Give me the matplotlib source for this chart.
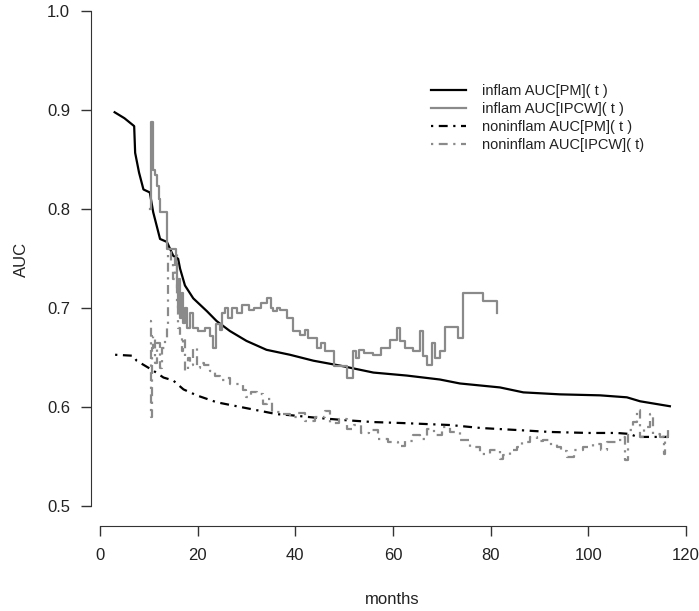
import numpy as np
import matplotlib
matplotlib.use("Agg")
import matplotlib.pyplot as plt

plt.rcParams['font.family'] = ['Liberation Sans', 'DejaVu Sans']

# inflam AUC[PM](t) - black solid
inflam_pm_x = [3.0, 5.0, 7.0, 7.2, 8.0, 8.9, 10.2, 10.9, 12.3, 13.7, 15.0, 16.0, 16.4, 17.4,
               19.1, 21.9, 23.9, 26.6, 30.0, 34.1, 38.9, 43.7, 49.2, 56.0, 62.8, 69.6, 73.7,
               81.9, 86.7, 94.2, 102.4, 107.9, 110.6, 116.7]
inflam_pm_y = [0.898, 0.892, 0.884, 0.857, 0.837, 0.820, 0.817, 0.797, 0.770, 0.767, 0.753,
               0.750, 0.740, 0.723, 0.710, 0.697, 0.687, 0.677, 0.667, 0.658, 0.653, 0.647,
               0.642, 0.635, 0.632, 0.628, 0.624, 0.620, 0.615, 0.613, 0.612, 0.610, 0.606, 0.601]

# inflam AUC[IPCW](t) - grey solid step
inflam_ipcw_x = [10.2, 10.4, 10.8, 11.2, 11.6, 12.0, 12.3, 13.7, 15.6, 15.8, 16.0, 16.2, 16.4,
                 16.7, 17.0, 17.4, 17.8, 18.4, 19.0, 20.0, 21.5, 22.5, 23.2, 23.8, 24.5, 25.0,
                 25.6, 26.3, 27.0, 28.0, 29.0, 30.5, 31.5, 33.0, 34.1, 35.0, 35.4, 36.3, 36.9,
                 38.2, 39.6, 41.0, 42.0, 42.5, 43.7, 44.4, 45.3, 46.0, 47.1, 48.0, 50.5, 51.9,
                 52.5, 53.0, 54.0, 56.0, 57.5, 59.4, 60.8, 61.4, 62.5, 64.2, 65.5, 66.2, 66.9,
                 68.0, 68.6, 69.6, 70.7, 73.4, 74.4, 78.5, 81.2]
inflam_ipcw_y = [0.800, 0.888, 0.840, 0.835, 0.823, 0.810, 0.797, 0.760, 0.745, 0.720, 0.700,
                 0.730, 0.690, 0.715, 0.685, 0.700, 0.680, 0.695, 0.680, 0.677, 0.680, 0.672,
                 0.660, 0.684, 0.678, 0.695, 0.700, 0.690, 0.700, 0.695, 0.703, 0.698, 0.700,
                 0.705, 0.710, 0.700, 0.697, 0.700, 0.698, 0.690, 0.677, 0.673, 0.678, 0.670,
                 0.670, 0.660, 0.665, 0.657, 0.657, 0.642, 0.630, 0.657, 0.650, 0.658, 0.655,
                 0.653, 0.660, 0.668, 0.680, 0.667, 0.660, 0.657, 0.677, 0.652, 0.643, 0.665,
                 0.650, 0.657, 0.681, 0.670, 0.715, 0.707, 0.695]

# noninflam AUC[PM](t) - black dot-dash
noninflam_pm_x = [3.1, 6.8, 7.5, 9.2, 10.9, 13.0, 15.0, 17.1, 19.8, 23.9, 28.0, 32.1, 36.2,
                  38.9, 45.0, 50.0, 56.0, 62.0, 71.7, 78.0, 85.3, 92.2, 100.0, 105.8, 108.5,
                  110.0, 112.6, 116.5]
noninflam_pm_y = [0.653, 0.652, 0.647, 0.642, 0.637, 0.630, 0.627, 0.618, 0.612, 0.605, 0.601,
                  0.597, 0.593, 0.592, 0.589, 0.587, 0.585, 0.584, 0.582, 0.579, 0.577, 0.575,
                  0.574, 0.574, 0.573, 0.570, 0.570, 0.570]

# noninflam AUC[IPCW](t) - grey dot-dash step
noninflam_ipcw_x = [10.2, 10.4, 10.6, 10.9, 11.3, 11.7, 12.3, 12.8, 13.3, 13.7, 13.97, 14.6,
                    15.0, 15.3, 15.7, 16.0, 16.4, 16.7, 17.0, 17.4, 18.0, 18.4, 19.1, 19.8,
                    20.5, 21.2, 22.5, 23.5, 24.6, 25.5, 26.6, 28.7, 29.3, 30.0, 31.0, 32.1,
                    33.4, 34.3, 35.2, 36.9, 38.9, 40.5, 42.0, 44.0, 46.0, 47.0, 49.0, 50.5,
                    52.0, 53.5, 55.0, 57.0, 59.0, 61.0, 62.5, 64.0, 65.5, 67.0, 68.5, 70.0,
                    71.7, 73.7, 75.8, 77.8, 79.9, 81.9, 82.5, 83.9, 85.3, 86.5, 88.0, 89.5,
                    90.7, 92.0, 93.5, 94.5, 95.6, 97.0, 99.0, 101.0, 102.5, 103.8, 105.8, 107.2,
                    107.5, 108.2, 109.2, 110.0, 110.6, 111.5, 112.6, 113.3, 114.7, 115.4, 115.7,
                    116.3]
noninflam_ipcw_y = [0.687, 0.590, 0.660, 0.672, 0.645, 0.665, 0.640, 0.660, 0.668, 0.683, 0.757,
                    0.747, 0.730, 0.755, 0.703, 0.680, 0.673, 0.657, 0.670, 0.637, 0.650, 0.643,
                    0.660, 0.640, 0.645, 0.643, 0.637, 0.632, 0.627, 0.630, 0.623, 0.623, 0.617,
                    0.610, 0.615, 0.613, 0.603, 0.608, 0.595, 0.593, 0.590, 0.594, 0.586, 0.590,
                    0.596, 0.584, 0.588, 0.578, 0.582, 0.574, 0.577, 0.568, 0.565, 0.561, 0.566,
                    0.572, 0.568, 0.578, 0.572, 0.580, 0.575, 0.567, 0.560, 0.553, 0.557, 0.548,
                    0.552, 0.557, 0.560, 0.565, 0.570, 0.566, 0.567, 0.563, 0.560, 0.556, 0.550,
                    0.557, 0.560, 0.563, 0.557, 0.565, 0.567, 0.570, 0.547, 0.577, 0.585, 0.597,
                    0.570, 0.580, 0.593, 0.573, 0.570, 0.553, 0.570, 0.577]

labels = ['inflam AUC[PM]( t )', 'inflam AUC[IPCW]( t )',
          'noninflam AUC[PM]( t )', 'noninflam AUC[IPCW]( t)']

grey = '#8a8a8a'
dotdash = (0, (1, 2.5, 4, 2.5))

fig = plt.figure(figsize=(6.99, 6.11), dpi=100)
ax = fig.add_axes([91 / 699, 85 / 611, 602.8 / 699, 534.5 / 611])

l1, = ax.plot(inflam_pm_x, inflam_pm_y, color='black', lw=1.6)
l2, = ax.plot(inflam_ipcw_x, inflam_ipcw_y, color=grey, lw=1.6, drawstyle='steps-post')
l3, = ax.plot(noninflam_pm_x, noninflam_pm_y, color='black', lw=1.6, linestyle=dotdash)
l4, = ax.plot(noninflam_ipcw_x, noninflam_ipcw_y, color=grey, lw=1.6, linestyle=dotdash,
              drawstyle='steps-post')

ax.set_xlim(-1.84, 121.6)
ax.set_ylim(0.48, 1.02)
ax.set_xticks([0, 20, 40, 60, 80, 100, 120])
ax.set_yticks([0.5, 0.6, 0.7, 0.8, 0.9, 1.0])
ax.set_yticklabels(['0.5', '0.6', '0.7', '0.8', '0.9', '1.0'])

for s in ['top', 'right']:
    ax.spines[s].set_visible(False)
ax.spines['left'].set_bounds(0.5, 1.0)
ax.spines['bottom'].set_bounds(0, 120)
ax.spines['left'].set_color('#333333')
ax.spines['bottom'].set_color('#333333')
ax.tick_params(direction='out', length=7.5, width=1, labelsize=12, colors='#333333')
ax.tick_params(axis='y', pad=7.5)
ax.tick_params(axis='x', pad=8)
for t in ax.get_xticklabels() + ax.get_yticklabels():
    t.set_color('#222222')

fig.text(392 / 699, 1 - 600 / 611, 'months', ha='center', va='center', fontsize=12,
         color='#222222')
fig.text(21 / 699, 1 - 259 / 611, 'AUC', ha='center', va='center', rotation=90,
         fontsize=12, color='#222222')

fig.legend([l1, l2, l3, l4], labels, loc='upper left', bbox_to_anchor=(431 / 699, 1 - 84 / 611),
           frameon=False, borderpad=0, borderaxespad=0, handlelength=2.4, handletextpad=1.1,
           labelspacing=0.28, fontsize=10.5, labelcolor='#222222')

fig.savefig('out.png', dpi=100)
